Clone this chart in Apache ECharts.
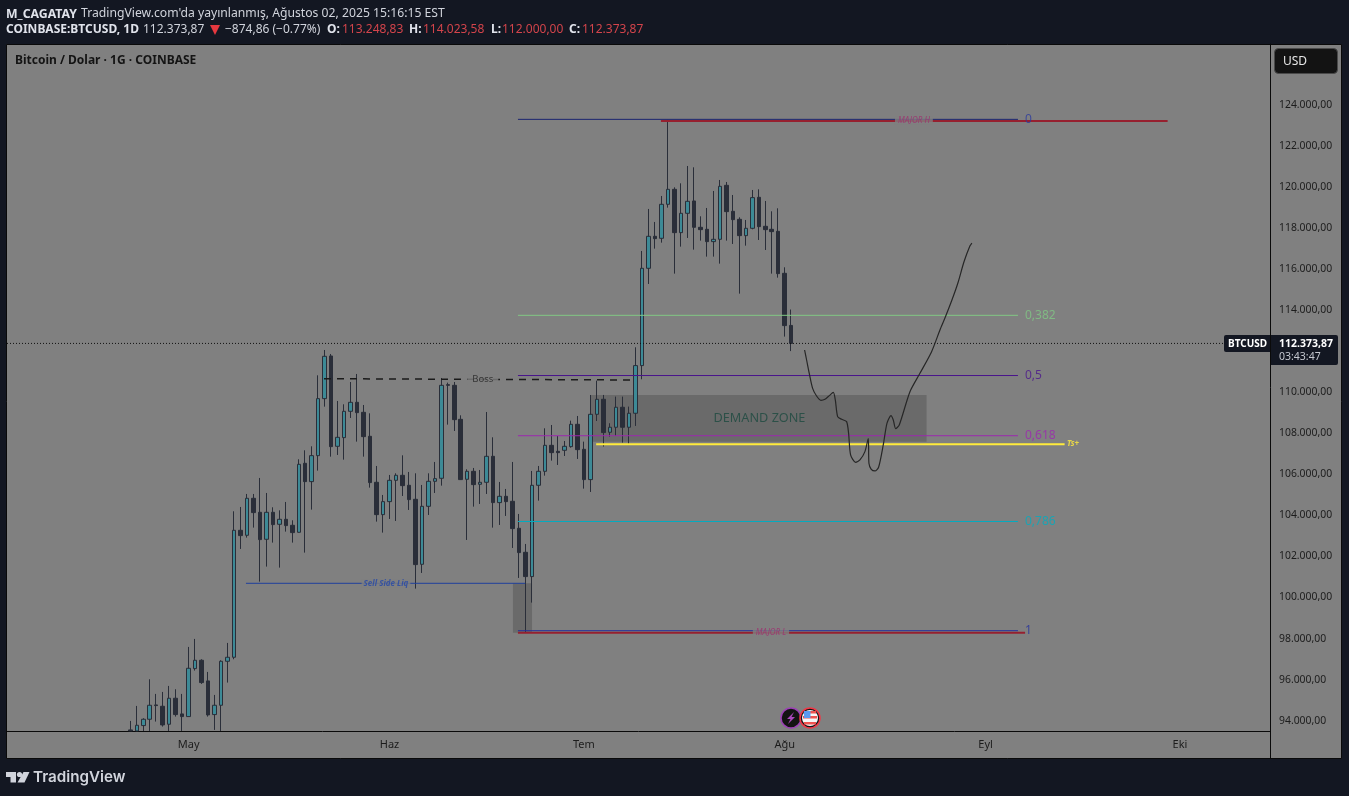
<!DOCTYPE html>
<html>
<head>
<meta charset="utf-8">
<title>BTCUSD</title>
<script src="https://cdn.jsdelivr.net/npm/echarts@6/dist/echarts.min.js"></script>
<style>
  html,body{margin:0;padding:0;background:#131722;}
  #main{width:1349px;height:796px;}
</style>
</head>
<body>
<div id="main"></div>
<script>
// daily candles, 22 Apr -> 2 Aug 2025
// the first few run under the time axis, they are only read down to where the chart cuts them
var opens=[93551,93500,93762,94070,94768,94703,93827,95093,94330,94200,96537,96943,95937,94297,94752,96894,97089,103273,103029,104831,
  104149,102834,104149,103565,103808,103516,103175,106535,105642,106908,109684,111761,107363,107785,109067,109505,109018,107850,105610,104035,
  104668,105707,105951,105464,104782,101617,104441,105658,105805,110365,110333,108677,105756,106145,105512,105610,106876,104620,104928,104685,
  103370,102201,101017,105464,106145,107411,107119,107168,107346,108434,107217,105740,108921,109653,108047,108290,109264,108290,108972,111293,
  116032,117590,117492,119148,119878,117768,118710,119310,118028,117931,117330,117444,120073,118807,118418,117622,117979,119489,118077,117931,
  117833,115788,113249];
var closes=[93500,93778,94070,94752,94736,93794,95093,94297,94200,96553,96943,95856,94281,94752,96894,97089,103273,103013,104831,104133,
  102818,104149,103549,103808,103500,103159,106486,105642,106908,109684,111745,107346,107801,109067,109505,109002,107833,105594,104035,104668,
  105707,105951,105447,104766,101601,104441,105658,105788,110333,110333,108661,105740,106145,105496,105610,106876,104620,104928,104668,103354,
  102185,101017,105464,106145,107411,107054,107054,107363,108434,107200,105740,108921,109651,108030,108290,109264,108290,108972,111293,116032,
  117590,117476,119148,119878,117768,118710,119294,118028,117914,117330,117444,120024,118791,118401,117622,117979,119473,118060,117914,117817,
  115772,113240,112374];
var lows=[93500,93500,93500,93500,93957,93713,93500,94200,93500,94200,96440,95791,94200,93551,93500,95856,96992,102364,102916,103403,
  100773,101504,102672,101455,103208,102672,103159,102185,104279,106178,109294,106859,106941,106713,108742,107590,106859,105350,103695,103159,
  103824,103727,104944,104263,100432,101195,104019,105090,105447,108418,108109,105723,102802,104425,104555,105042,103403,103532,103971,102412,
  100952,98290,99751,104717,105934,106665,106454,106892,107298,106746,105301,105139,108596,107349,107836,107868,107543,107479,108355,110627,
  115269,116989,117281,118986,115772,117087,117509,116941,117379,116600,116600,116259,117379,117217,114798,117135,117931,117411,116924,115772,
  115577,112705,112000];
var highs=[93989,94719,94119,96018,95304,95401,95693,95531,95304,97592,97982,96992,96375,95255,96943,97787,104198,104409,105042,105042,
  105821,105090,104393,104246,104652,103760,106730,107168,107363,110820,112053,111858,109570,109408,110495,110885,109375,108969,106405,104993,
  105967,106048,106924,106113,106048,105480,106048,106600,110690,110463,110495,108872,106243,106308,106210,109034,107801,105626,105285,106600,
  104068,102607,106162,106405,108239,108401,107866,107622,108612,108840,107590,109862,110560,109864,108485,109783,109783,109296,112185,116876,
  118921,118288,119554,123254,119976,120170,121014,120949,118564,118969,119797,120333,120235,119602,118515,118385,119846,119878,119310,118807,
  118953,116080,114024];

// y axis
var yMin=93498, yMax=126955;
var priceTicks=[94000,96000,98000,100000,102000,104000,106000,108000,110000,112000,114000,116000,118000,120000,122000,124000];

// x axis is in days after 22 Apr
var dayMin=-19.03, dayMax=175.9;
var monthDays=[9,40,70,101,132,162];
var monthNames=['May','Haz','Tem','Ağu','Eyl','Eki'];

// fib retracement
var fibDays=[59.83,137];
var fibNames=['0','0,382','0,5','0,618','0,786','1'];
var fibPrices=[123285,113742,110810,107877,103702,98383];
var fibColors=['#1a2470','#81c784','#4a148c','#9c27b0','#00acc1','#24319c'];
var fibLabelColors=['#2a3a9e','#81c784','#4a148c','#9c27b0','#00acc1','#24319c'];
var fibLabelDay=138;

// hand drawn levels
var majorHDays=[81.9,160.1], majorHPrice=123205;
var majorLDays=[59.83,138.1], majorLPrice=98285;
var liqDays=[17.85,60.95], liqPrice=100691;
var bossDays=[29.9,77.9], bossPrices=[110655,110592];
var tsDays=[71.9,144.2], tsPrice=107460;
var lastPrice=112373.87;

// boxes: [day from, day to, price top, price bottom]
var zoneBox=[71.05,122.9,109861,107587];
var liqBox=[59.05,62,100691,98285];

// projected path the author drew
var pathDays=[104.07,104.38,104.79,105.31,105.92,106.59,107.21,107.88,108.5,108.81,109.17,109.78,110.55,110.86,111.17,111.94,112.61,113.38,113.9,114,
  114.36,114.93,115.49,116.21,116.78,117.4,117.76,118.12,118.68,120.33,121.87,123.67,124.96,125.73,126.81,127.73,128.66,129.58,129.89];
var pathPrices=[112053,111566,110917,110187,109813,109602,109651,109830,109992,109619,108807,108677,108564,107996,106941,106584,106697,107103,107736,106535,
  106243,106162,106340,107428,108483,108856,108645,108223,108401,110024,110917,111972,113027,113611,114488,115315,116338,117117,117263];

// text on the chart
var noteTexts=['MAJOR H','MAJOR L','Sell Side Liq','Boss','DEMAND ZONE','Ts+'];
var noteDays=[120.94,98.88,39.46,54.4,97.1,145.5];
var notePrices=[123219,98300,100691,110620,108745,107480];

var FONT='"Noto Sans", sans-serif';
var BG='#131722', PANEL='#808080', INK='#1c1c1c', RED='#d3444b';

function flatLine(days,price,color,width,z,type){
  return {
    type:'line', z:z, silent:true, symbol:'none',
    data:[[days[0],price],[days[1],price]],
    lineStyle:{color:color,width:width,type:type||'solid'}
  };
}

function box(b){
  return [{coord:[b[0],b[2]]},{coord:[b[1],b[3]]}];
}

function note(i,style){
  return {
    value:[noteDays[i],notePrices[i]],
    label:Object.assign({show:true,position:'inside',formatter:noteTexts[i],fontFamily:FONT},style)
  };
}

var candles=opens.map(function(o,i){
  return [i,o,closes[i],lows[i],highs[i]];
});

var series=[];

// grey boxes under the candles
series.push({
  type:'line', z:1, silent:true, symbol:'none', data:[],
  markArea:{silent:true,itemStyle:{color:'#6a6a6a'},data:[box(zoneBox),box(liqBox)]}
});

series.push({
  type:'candlestick', z:2, silent:true,
  barWidth:4,
  encode:{x:0,y:[1,2,3,4]},
  data:candles,
  itemStyle:{color:'#3d8a96',color0:'#2a2e39',borderColor:'#2a2e39',borderColor0:'#2a2e39',borderWidth:1}
});

series.push(flatLine(majorHDays,majorHPrice,'#96202f',2,3));
series.push(flatLine(majorLDays,majorLPrice,'#96202f',2,3));
for(var i=0;i<fibNames.length;i++){
  series.push(flatLine(fibDays,fibPrices[i],fibColors[i],1,4));
}
series.push(flatLine(liqDays,liqPrice,'#1f3f9c',1,4));
series.push(flatLine(tsDays,tsPrice,'#ffeb3b',2,4));
series.push(flatLine([dayMin,dayMax],lastPrice,'#111111',1,4,[1,2]));

series.push({
  type:'line', z:4, silent:true, symbol:'none',
  data:bossDays.map(function(d,i){ return [d,bossPrices[i]]; }),
  lineStyle:{color:'#1a1a1a',width:1.5,type:[7,6]}
});

series.push({
  type:'line', z:5, silent:true, symbol:'none', smooth:0.25,
  data:pathDays.map(function(d,i){ return [d,pathPrices[i]]; }),
  lineStyle:{color:'#262626',width:1.2}
});

// fib labels and the notes
series.push({
  type:'scatter', z:6, silent:true, symbolSize:1,
  itemStyle:{color:'rgba(0,0,0,0)'},
  data:fibNames.map(function(n,i){
    return {
      value:[fibLabelDay,fibPrices[i]],
      label:{show:true,position:'right',distance:0,formatter:n,color:fibLabelColors[i],fontSize:12,fontFamily:FONT}
    };
  }).concat([
    note(0,{color:'#a02a6e',fontSize:8,fontStyle:'italic',backgroundColor:PANEL,padding:[0,3]}),
    note(1,{color:'#a02a6e',fontSize:8,fontStyle:'italic',backgroundColor:PANEL,padding:[0,3]}),
    note(2,{color:'#2447a8',fontSize:8,fontStyle:'italic',fontWeight:'bold',backgroundColor:PANEL,padding:[0,2]}),
    note(3,{color:'#222222',fontSize:9.5,backgroundColor:PANEL,padding:[0,5]}),
    note(4,{color:'#1d4a40',fontSize:12.7}),
    note(5,{color:'#ffeb3b',fontSize:8,fontStyle:'italic',fontWeight:'bold'})
  ])
});

function txt(x,y,s,color,size,weight,extra){
  return {
    type:'text', x:x, y:y, z:20, silent:true,
    style:Object.assign({text:s,fill:color,font:(weight||'normal')+' '+size+'px '+FONT,textVerticalAlign:'middle'},extra||{})
  };
}

var graphics=[
  {type:'rect',shape:{x:6.5,y:44.5,width:1335,height:714},z:-10,silent:true,style:{fill:PANEL,stroke:'#0a0a0a',lineWidth:1}},
  {type:'line',z:-9,silent:true,shape:{x1:1270.5,y1:731,x2:1270.5,y2:759},style:{stroke:'#0a0a0a',lineWidth:1}},

  txt(6,14,'M_CAGATAY','#e0e3eb',12.3,'bold'),
  txt(81,14,"TradingView.com'da yayınlanmış, Ağustos 02, 2025 15:16:15 EST",'#d1d4dc',12.2),
  txt(6,30,'COINBASE:BTCUSD, 1D','#e0e3eb',12,'bold'),
  txt(143,30,'112.373,87','#d1d4dc',12),
  {type:'polygon',z:20,silent:true,shape:{points:[[210,25],[220,25],[215,35]]},style:{fill:'#e5383f'}},
  txt(225,30,'−874,86 (−0.77%)','#d1d4dc',12),
  txt(327,30,'O:','#e0e3eb',12,'bold'),
  txt(342,30,'113.248,83',RED,12),
  txt(409,30,'H:','#e0e3eb',12,'bold'),
  txt(423,30,'114.023,58',RED,12),
  txt(491,30,'L:','#e0e3eb',12,'bold'),
  txt(502,30,'112.000,00',RED,12),
  txt(569,30,'C:','#e0e3eb',12,'bold'),
  txt(582,30,'112.373,87',RED,12),
  txt(15,61,'Bitcoin / Dolar · 1G · COINBASE','#141414',12,'bold'),

  // USD button
  {type:'rect',z:20,silent:true,shape:{x:1274.5,y:48.5,width:63,height:25,r:4},style:{fill:'#131313',stroke:'#4a4a4a',lineWidth:1}},
  txt(1283,62,'USD','#e6e6e6',12),

  // last price tags
  {type:'rect',z:20,silent:true,shape:{x:1224,y:335,width:46,height:17,r:[2,0,0,2]},style:{fill:BG}},
  txt(1228,344,'BTCUSD','#ffffff',10,'bold'),
  {type:'rect',z:20,silent:true,shape:{x:1271,y:335,width:67,height:30,r:[0,2,2,0]},style:{fill:BG}},
  txt(1279,344,'112.373,87','#ffffff',10.5,'bold'),
  txt(1279,357,'03:43:47','#c5c8d0',10.5),

  // event badges
  {type:'circle',z:20,silent:true,shape:{cx:791,cy:718,r:10},style:{fill:'#131313',stroke:'#9c3fb5',lineWidth:1.5}},
  {type:'polygon',z:21,silent:true,shape:{points:[[794,712],[787,719],[790.5,719],[788,724],[795,717],[791.5,717]]},style:{fill:'#ab47bc'}},
  {type:'circle',z:22,silent:true,shape:{cx:810,cy:718,r:10},style:{fill:'#131313',stroke:'#f23645',lineWidth:1.5}},
  {type:'circle',z:23,silent:true,shape:{cx:810,cy:718,r:8},style:{fill:'#f7f7f7'}},
  {type:'rect',z:24,silent:true,shape:{x:804,y:711,width:12,height:2.5},style:{fill:'#ef5350'}},
  {type:'rect',z:24,silent:true,shape:{x:803,y:716,width:14,height:2.5},style:{fill:'#ef5350'}},
  {type:'rect',z:24,silent:true,shape:{x:804,y:722,width:12,height:2.5},style:{fill:'#ef5350'}},
  {type:'rect',z:25,silent:true,shape:{x:804,y:711,width:6.5,height:7},style:{fill:'#5b9bf0'}},

  // TradingView logo
  {type:'polygon',z:20,silent:true,shape:{points:[[6,772],[16,772],[16,782.5],[10.5,782.5],[10.5,777],[6,777]]},style:{fill:'#d1d4dc'}},
  {type:'circle',z:20,silent:true,shape:{cx:19.5,cy:774.5,r:2.6},style:{fill:'#d1d4dc'}},
  {type:'polygon',z:20,silent:true,shape:{points:[[23.5,772],[29.5,772],[24.5,782.5],[17.5,782.5]]},style:{fill:'#d1d4dc'}},
  txt(33,777.5,'TradingView','#d1d4dc',15.2,'600',{font:'600 15.2px Inter, sans-serif'})
];

var myChart=echarts.init(document.getElementById('main'));

var option={
  animation:false,
  backgroundColor:BG,
  grid:{left:7,right:79,top:44,bottom:65,show:false},
  tooltip:{show:false},
  xAxis:{
    type:'value',
    min:dayMin,
    max:dayMax,
    axisLine:{show:true,onZero:false,lineStyle:{color:'#0a0a0a',width:1}},
    axisTick:{show:false},
    splitLine:{show:false},
    axisLabel:{
      customValues:monthDays,
      margin:8,
      color:INK,
      fontSize:11,
      fontFamily:FONT,
      formatter:function(v){ return monthNames[monthDays.indexOf(v)]; }
    }
  },
  yAxis:{
    type:'value',
    position:'right',
    min:yMin,
    max:yMax,
    axisLine:{show:true,onZero:false,lineStyle:{color:'#0a0a0a',width:1}},
    axisTick:{show:false},
    splitLine:{show:false},
    axisLabel:{
      customValues:priceTicks,
      margin:9,
      color:INK,
      fontSize:10.4,
      fontFamily:FONT,
      padding:[0,0,7,0],
      formatter:function(v){ return (v/1000)+'.000,00'; }
    }
  },
  graphic:graphics,
  series:series
};

myChart.setOption(option);
</script>
</body>
</html>
